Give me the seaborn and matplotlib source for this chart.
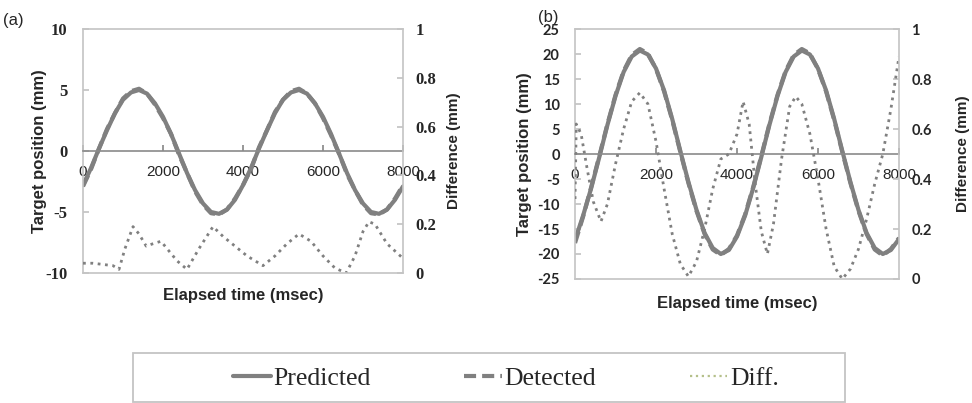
import numpy as np
import pandas as pd
import matplotlib
matplotlib.use('Agg')
import matplotlib.pyplot as plt
from matplotlib.lines import Line2D
from matplotlib.patches import Rectangle
import seaborn as sns

# ---- data ----
time_ms = [0, 200, 400, 600, 800, 1000, 1200, 1400, 1600, 1800, 2000, 2200, 2400, 2600,
           2800, 3000, 3200, 3400, 3600, 3800, 4000, 4200, 4400, 4600, 4800, 5000,
           5200, 5400, 5600, 5800, 6000, 6200, 6400, 6600, 6800, 7000, 7200, 7400,
           7600, 7800, 8000]

pred_a = [-2.8, -1.4, 0.2, 1.7, 3.1, 4.2, 4.8, 5.0, 4.7, 3.9, 2.8, 1.4, -0.2, -1.8,
          -3.2, -4.3, -5.0, -5.15, -4.8, -4.0, -2.8, -1.4, 0.2, 1.7, 3.1, 4.2,
          4.8, 5.0, 4.7, 3.9, 2.8, 1.4, -0.2, -1.8, -3.2, -4.3, -5.0, -5.15,
          -4.8, -4.0, -2.9]
det_a = [-2.9, -1.5, 0.2, 1.8, 3.1, 4.3, 4.9, 5.1, 4.7, 3.8, 2.7, 1.4, -0.3, -1.8,
         -3.3, -4.4, -5.1, -5.2, -4.8, -3.9, -2.8, -1.5, 0.3, 1.7, 3.2, 4.2,
         4.9, 5.1, 4.7, 3.9, 2.7, 1.3, -0.2, -1.9, -3.2, -4.4, -5.1, -5.2,
         -4.8, -3.9, -2.8]

pred_b = [-17.2, -12.3, -6.8, -0.6, 5.8, 11.6, 16.4, 19.5, 20.7, 19.9, 17.1, 12.7, 7.0, 0.6,
          -5.6, -11.2, -15.8, -18.8, -20.0, -19.2, -16.5, -12.3, -6.8, -0.6, 5.8, 11.6,
          16.4, 19.5, 20.7, 19.9, 17.1, 12.7, 7.0, 0.6, -5.6, -11.2, -15.8, -18.8,
          -20.0, -19.2, -17.0]
det_b = [-17.8, -12.5, -6.6, -0.4, 6.0, 11.8, 16.6, 19.8, 21.0, 20.1, 17.0, 12.5, 6.8, 0.4,
         -5.8, -11.4, -16.0, -19.1, -20.2, -19.0, -16.3, -12.1, -6.6, -0.4, 6.0, 11.8,
         16.6, 19.8, 21.0, 20.1, 17.0, 12.5, 6.8, 0.4, -5.8, -11.4, -16.0, -19.1,
         -20.3, -19.0, -16.8]

diff_a_t = [0, 250, 500, 750, 900, 1050, 1250, 1400, 1580, 1750, 1950, 2100, 2350,
            2600, 2900, 3250, 3500, 3800, 4100, 4500, 4800, 5100, 5400, 5700, 6000,
            6300, 6580, 6800, 7000, 7150, 7300, 7600, 8000]
diff_a = [0.04, 0.04, 0.035, 0.03, 0.015, 0.10, 0.19, 0.16, 0.11, 0.12, 0.13, 0.10, 0.05,
          0.015, 0.10, 0.19, 0.15, 0.11, 0.07, 0.03, 0.07, 0.12, 0.16, 0.13, 0.07,
          0.02, 0.00, 0.07, 0.17, 0.21, 0.20, 0.12, 0.06]

diff_b_t = [0, 30, 150, 300, 450, 640, 800, 1000, 1200, 1400, 1600, 1800, 2000, 2200,
            2400, 2600, 2800, 3000, 3200, 3400, 3600, 3800, 4000, 4150, 4300, 4450,
            4600, 4750, 4900, 5100, 5300, 5450, 5600, 5800, 6000, 6200, 6400, 6600,
            6800, 7000, 7200, 7400, 7600, 7800, 8000]
diff_b = [0.32, 0.62, 0.58, 0.44, 0.31, 0.23, 0.30, 0.46, 0.60, 0.71, 0.745, 0.70, 0.55, 0.36,
          0.18, 0.06, 0.01, 0.07, 0.20, 0.36, 0.48, 0.50, 0.58, 0.71, 0.62, 0.38,
          0.19, 0.10, 0.22, 0.48, 0.69, 0.73, 0.70, 0.58, 0.40, 0.20, 0.05, 0.00,
          0.04, 0.12, 0.24, 0.38, 0.50, 0.68, 0.89]

x_ticks = [0, 2000, 4000, 6000, 8000]
diff_ticks = [0, 0.2, 0.4, 0.6, 0.8, 1]
diff_labels = ['0', '0.2', '0.4', '0.6', '0.8', '1']
ticks_a = [-10, -5, 0, 5, 10]
ticks_b = [-25, -20, -15, -10, -5, 0, 5, 10, 15, 20, 25]

GRAY = '#808080'
FRAME = '#c4c4c4'

sns.set_theme(style='white')
plt.rcParams['font.family'] = ['Liberation Sans', 'DejaVu Sans']

fig = plt.figure(figsize=(9.72, 4.03), dpi=100)
ax_a = fig.add_axes([0.0854, 0.3226, 0.3292, 0.6055])
ax_b = fig.add_axes([0.5916, 0.3077, 0.3333, 0.6203])


def panel(ax, pred, det, dt, diff, ylim, yticks, tick_family, tick_size,
          ylab_x, ylab2_x, xlab_y):
    df = pd.DataFrame({'t': time_ms, 'Predicted': pred, 'Detected': det})
    sns.lineplot(data=df, x='t', y='Detected', ax=ax, color=GRAY, lw=3,
                 linestyle=(0, (2.9, 1.45)))
    sns.lineplot(data=df, x='t', y='Predicted', ax=ax, color=GRAY, lw=3)
    ax.set_xlim(0, 8000)
    ax.set_ylim(*ylim)

    ax2 = ax.twinx()
    sns.lineplot(x=dt, y=diff, ax=ax2, color=GRAY, lw=2, linestyle=':')
    ax2.set_ylim(0, 1)

    fp = dict(family=tick_family, weight='bold', size=tick_size)
    ax.set_xticks(x_ticks)
    ax.set_xticklabels([str(v) for v in x_ticks], fontdict=fp)
    ax.set_yticks(yticks)
    ax.set_yticklabels([str(v) for v in yticks], fontdict=fp)
    ax2.set_yticks(diff_ticks)
    ax2.set_yticklabels(diff_labels, fontdict=fp)

    ax.tick_params(axis='x', bottom=True, direction='in', length=4,
                   color='#8a8a8a', pad=10)
    ax.tick_params(axis='y', left=True, direction='in', length=4,
                   color=FRAME, pad=11)
    ax2.tick_params(axis='y', right=True, direction='in', length=4,
                    color=FRAME, pad=9)

    ax.spines['bottom'].set_position(('data', 0))
    ax.spines['bottom'].set_color('#8a8a8a')
    ax.spines['bottom'].set_linewidth(1.2)
    for s in ('left', 'top'):
        ax.spines[s].set_color(FRAME)
        ax.spines[s].set_linewidth(1.2)
    ax.spines['right'].set_visible(False)
    ax2.spines['left'].set_visible(False)
    ax2.spines['top'].set_visible(False)
    for s in ('bottom', 'right'):
        ax2.spines[s].set_color(FRAME)
        ax2.spines[s].set_linewidth(1.2)

    ax.set_ylabel('Target position (mm)', fontsize=12, fontweight='bold')
    ax.yaxis.set_label_coords(ylab_x, 0.5)
    ax2.set_ylabel('Difference (mm)', fontsize=11, fontweight='bold')
    ax2.yaxis.set_label_coords(ylab2_x, 0.5)
    ax.set_xlabel('Elapsed time (msec)', fontsize=12, fontweight='bold')
    ax.xaxis.set_label_coords(0.5, xlab_y)
    return ax2


panel(ax_a, pred_a, det_a, diff_a_t, diff_a, (-10, 10), ticks_a,
      'Liberation Serif', 12, -0.1125, 1.1375, -0.0615)
panel(ax_b, pred_b, det_b, diff_b_t, diff_b, (-25, 25), ticks_b,
      'Lato', 10.5, -0.133, 1.176, -0.068)

fig.text(0.0035, 0.95, '(a)', fontsize=12, va='center', ha='left')
fig.text(0.553, 0.957, '(b)', fontsize=12, va='center', ha='left')

# legend box
fig.patches.append(Rectangle((0.1368, 0.0025), 0.7325, 0.1215,
                             transform=fig.transFigure, fill=False,
                             edgecolor=FRAME, lw=1.3))
handles = [Line2D([], [], color=GRAY, lw=3),
           Line2D([], [], color=GRAY, lw=3, linestyle=(0, (2.9, 1.45))),
           Line2D([], [], color='#b5c08a', lw=1.6, linestyle=':')]
fig.legend(handles, ['Predicted', 'Detected', 'Diff.'], loc='center',
           bbox_to_anchor=(0.5206, 0.062), ncol=3, frameon=False,
           prop={'family': 'Liberation Serif', 'size': 18.5},
           handlelength=1.46, handletextpad=0.1, columnspacing=3.65,
           borderpad=0)

fig.savefig('out.png', dpi=100)
